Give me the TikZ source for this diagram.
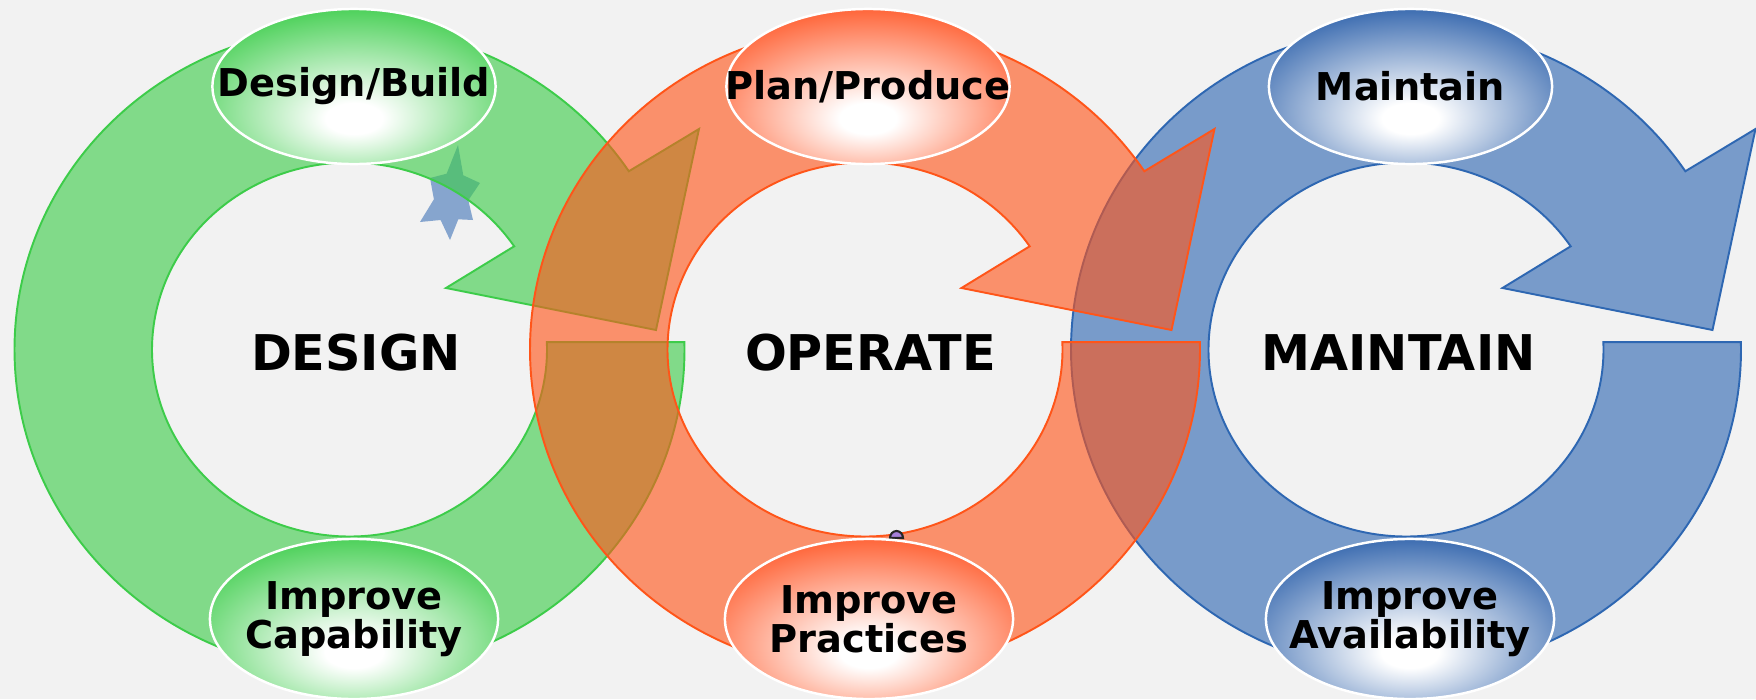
\documentclass[tikz,border=0pt]{standalone}
\usepackage{fontspec}
\setmainfont{DejaVu Sans}
\usetikzlibrary{shapes.geometric}
\definecolor{bgcol}{RGB}{242,242,242}
\definecolor{gcol}{RGB}{61,204,74}
\definecolor{ocol}{RGB}{255,85,25}
\definecolor{bcol}{RGB}{46,103,178}
\definecolor{gedge}{RGB}{62,205,76}
\definecolor{oedge}{RGB}{255,88,40}
\definecolor{bedge}{RGB}{44,96,170}
\pgfdeclareradialshading{gshade}{\pgfpoint{0bp}{-11bp}}{color(0bp)=(white); color(5bp)=(white); color(34bp)=(gedge); color(80bp)=(gedge)}
\pgfdeclareradialshading{oshade}{\pgfpoint{0bp}{-11bp}}{color(0bp)=(white); color(5bp)=(white); color(34bp)=(oedge); color(80bp)=(oedge)}
\pgfdeclareradialshading{bshade}{\pgfpoint{0bp}{-11bp}}{color(0bp)=(white); color(5bp)=(white); color(34bp)=(bedge); color(80bp)=(bedge)}
\newcommand\ringshape{(334.9,7.3) arc[start angle=1.3, end angle=-326.5, x radius=335, y radius=323] -- (349.5,220.5) -- (306.5,19.5) -- (96.5,61.5) -- (164.7,103.2) arc[start angle=33.5, end angle=362.24, x radius=197.5, y radius=187] -- cycle}
\begin{document}
\begin{tikzpicture}[x=0.01cm,y=0.01cm,
  ringfill/.style={fill=#1, fill opacity=0.62, draw=#1, line width=0.55pt},
  lab/.style={ellipse, draw=white, line width=0.7pt, inner sep=0pt},
  toplab/.style={lab, minimum width=2.83cm, minimum height=1.55cm},
  botlab/.style={lab, minimum width=2.88cm, minimum height=1.6cm},
  labtext/.style={align=center, inner sep=0pt, font=\fontsize{10.9}{11}\selectfont\bfseries},
  big/.style={font=\fontsize{14}{16}\selectfont\bfseries}]
\useasboundingbox (0,0) rectangle (1756,699);
\fill[bgcol] (0,0) rectangle (1756,699);
% small blue star
\fill[bcol, fill opacity=0.55] (458,554) -- (463.3,523.7) -- (480,516) -- (468.3,498.7) -- (473,479) -- (458.3,479.7) -- (450,459) -- (440.6,479) -- (420,477) -- (433.9,499.7) -- (430,521) -- (446.6,525.3) -- cycle;
% rings
\begin{scope}[shift={(349.5,349.5)}]
\filldraw[ringfill=gcol] \ringshape;
\end{scope}
\begin{scope}[shift={(1406,349.5)}]
\filldraw[ringfill=bcol] \ringshape;
\end{scope}
\begin{scope}[shift={(865,349.5)}]
\filldraw[ringfill=ocol] \ringshape;
\end{scope}
% tiny blob
\filldraw[fill=violet!60!blue!50, draw=black!85, line width=0.6pt] (890,161) arc[start angle=180, end angle=0, x radius=6.5, y radius=7] -- cycle;
% label ellipses
\node[toplab, shading=gshade] (db) at (354,612.5) {};
\node[toplab, shading=oshade] (pp) at (868,612.5) {};
\node[toplab, shading=bshade] (mt) at (1410.5,612.5) {};
\node[botlab, shading=gshade] (ic) at (354,80) {};
\node[botlab, shading=oshade] (ip) at (869,80) {};
\node[botlab, shading=bshade] (ia) at (1410,80) {};
\node[labtext] (tdb) at (db.center) {Design/Build};
\node[labtext] (tpp) at (pp.center) {Plan/Produce};
\node[labtext] (tmt) at (mt.center) {Maintain};
\node[labtext] (tic) at (ic.center) {Improve\\Capability};
\node[labtext] (tip) at (ip.center) {Improve\\Practices};
\node[labtext] (tia) at (ia.center) {Improve\\Availability};
% big titles
\node[big] (tdesign) at (356,346) {DESIGN};
\node[big] (toperate) at (870.5,346) {OPERATE};
\node[big] (tmaintain) at (1398.5,346) {MAINTAIN};
\end{tikzpicture}
\end{document}
